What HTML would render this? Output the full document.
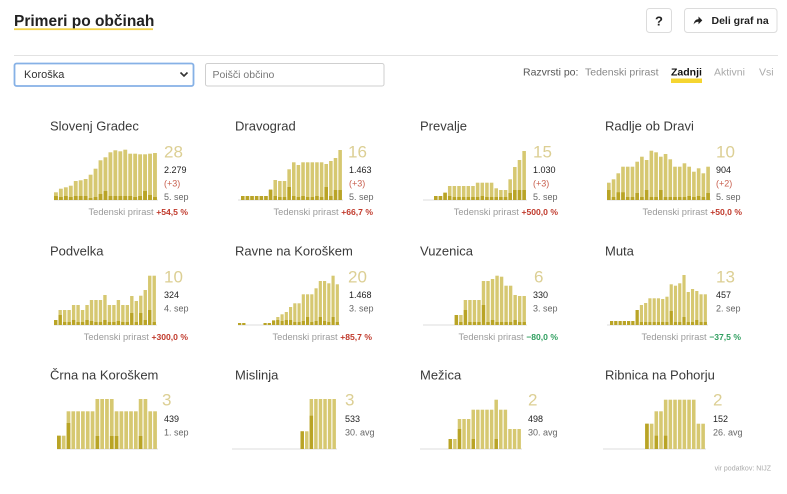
<!DOCTYPE html>
<html><head><meta charset="utf-8">
<style>
html,body{margin:0;padding:0;background:#fff;width:787px;height:494px;overflow:hidden}
svg{display:block}
text{font-family:"Liberation Sans",sans-serif}
</style></head><body>
<svg id="s" width="787" height="494" viewBox="0 0 787 494" xmlns="http://www.w3.org/2000/svg">
<!-- header -->
<text x="14" y="26" font-size="15.5" font-weight="bold" fill="#222">Primeri po občinah</text>
<rect x="14" y="28.3" width="139" height="1.8" fill="#f1d34a"/>
<rect x="646.5" y="8.5" width="25" height="24" rx="3" fill="#fff" stroke="#dcdcdc"/>
<text x="659" y="21" text-anchor="middle" dominant-baseline="central" font-size="13" font-weight="bold" fill="#222">?</text>
<rect x="684.5" y="8.5" width="92.5" height="24" rx="3" fill="#fff" stroke="#dcdcdc"/>
<path d="M693.5 24.5 q0.8 -5.2 5 -5.4 v-2.6 l3.8 3.9 l-3.8 3.9 v-2.5 q-3 0 -5 2.7z" fill="#222"/>
<text x="711.5" y="21" dominant-baseline="central" font-size="10.5" font-weight="bold" fill="#222">Deli graf na</text>
<rect x="14" y="55" width="764" height="1" fill="#e2e2e2"/>
<!-- controls -->
<rect x="14.5" y="63.5" width="179" height="22.5" rx="2" fill="#fff" stroke="#86b1e6" stroke-width="1.8"/>
<text x="24" y="75" dominant-baseline="central" font-size="11" fill="#333">Koroška</text>
<polyline points="180.5,72.5 184,76 187.5,72.5" fill="none" stroke="#333" stroke-width="1.6"/>
<rect x="205.5" y="63.5" width="178.5" height="22.5" rx="2" fill="#fff" stroke="#cfcfcf"/>
<text x="212.5" y="75" dominant-baseline="central" font-size="10.5" fill="#777">Poišči občino</text>
<text x="523" y="72.5" dominant-baseline="central" font-size="10.5" fill="#555">Razvrsti po:</text>
<text x="585" y="72.5" dominant-baseline="central" font-size="10.5" fill="#888">Tedenski prirast</text>
<rect x="671" y="78.5" width="31" height="4.5" fill="#f5d531"/>
<text x="671" y="72.5" dominant-baseline="central" font-size="10.5" font-weight="bold" fill="#111">Zadnji</text>
<text x="714" y="72.5" dominant-baseline="central" font-size="10.5" fill="#aaa">Aktivni</text>
<text x="759" y="72.5" dominant-baseline="central" font-size="10.5" fill="#aaa">Vsi</text>

<g id="bars"></g>

<g font-size="13" fill="#3a3a3a">
<text x="50" y="126" dominant-baseline="central">Slovenj Gradec</text>
<text x="235" y="126" dominant-baseline="central">Dravograd</text>
<text x="420" y="126" dominant-baseline="central">Prevalje</text>
<text x="605" y="126" dominant-baseline="central">Radlje ob Dravi</text>
<text x="50" y="251" dominant-baseline="central">Podvelka</text>
<text x="235" y="251" dominant-baseline="central">Ravne na Koroškem</text>
<text x="420" y="251" dominant-baseline="central">Vuzenica</text>
<text x="605" y="251" dominant-baseline="central">Muta</text>
<text x="50" y="375" dominant-baseline="central">Črna na Koroškem</text>
<text x="235" y="375" dominant-baseline="central">Mislinja</text>
<text x="420" y="375" dominant-baseline="central">Mežica</text>
<text x="605" y="375" dominant-baseline="central">Ribnica na Pohorju</text>
</g>

<g font-size="17" fill="#dccf94">
<text x="164" y="152" dominant-baseline="central">28</text>
<text x="348" y="152" dominant-baseline="central">16</text>
<text x="533" y="152" dominant-baseline="central">15</text>
<text x="716" y="152" dominant-baseline="central">10</text>
<text x="164" y="277" dominant-baseline="central">10</text>
<text x="348" y="277" dominant-baseline="central">20</text>
<text x="534" y="277" dominant-baseline="central">6</text>
<text x="716" y="277" dominant-baseline="central">13</text>
<text x="162" y="400" dominant-baseline="central">3</text>
<text x="345" y="400" dominant-baseline="central">3</text>
<text x="528" y="400" dominant-baseline="central">2</text>
<text x="713" y="400" dominant-baseline="central">2</text>
</g>

<g font-size="9">
<text x="164" y="170" dominant-baseline="central" fill="#222">2.279</text>
<text x="164" y="183.5" dominant-baseline="central" fill="#c9604f">(+3)</text>
<text x="164" y="197" dominant-baseline="central" fill="#666">5. sep</text>
<text x="349" y="170" dominant-baseline="central" fill="#222">1.463</text>
<text x="349" y="183.5" dominant-baseline="central" fill="#c9604f">(+3)</text>
<text x="349" y="197" dominant-baseline="central" fill="#666">5. sep</text>
<text x="533" y="170" dominant-baseline="central" fill="#222">1.030</text>
<text x="533" y="183.5" dominant-baseline="central" fill="#c9604f">(+3)</text>
<text x="533" y="197" dominant-baseline="central" fill="#666">5. sep</text>
<text x="716" y="170" dominant-baseline="central" fill="#222">904</text>
<text x="716" y="183.5" dominant-baseline="central" fill="#c9604f">(+2)</text>
<text x="716" y="197" dominant-baseline="central" fill="#666">5. sep</text>

<text x="164" y="295" dominant-baseline="central" fill="#222">324</text>
<text x="164" y="308.5" dominant-baseline="central" fill="#666">4. sep</text>
<text x="349" y="295" dominant-baseline="central" fill="#222">1.468</text>
<text x="349" y="308.5" dominant-baseline="central" fill="#666">3. sep</text>
<text x="533" y="295" dominant-baseline="central" fill="#222">330</text>
<text x="533" y="308.5" dominant-baseline="central" fill="#666">3. sep</text>
<text x="716" y="295" dominant-baseline="central" fill="#222">457</text>
<text x="716" y="308.5" dominant-baseline="central" fill="#666">2. sep</text>

<text x="164" y="419" dominant-baseline="central" fill="#222">439</text>
<text x="164" y="432.5" dominant-baseline="central" fill="#666">1. sep</text>
<text x="345" y="419" dominant-baseline="central" fill="#222">533</text>
<text x="345" y="432.5" dominant-baseline="central" fill="#666">30. avg</text>
<text x="528" y="419" dominant-baseline="central" fill="#222">498</text>
<text x="528" y="432.5" dominant-baseline="central" fill="#666">30. avg</text>
<text x="713" y="419" dominant-baseline="central" fill="#222">152</text>
<text x="713" y="432.5" dominant-baseline="central" fill="#666">26. avg</text>
</g>

<g font-size="9.3">
<text x="188" y="212" text-anchor="end" dominant-baseline="central"><tspan fill="#9a9a9a">Tedenski prirast </tspan><tspan fill="#c0392b" font-weight="bold" font-size="8.6">+54,5 %</tspan></text>
<text x="373" y="212" text-anchor="end" dominant-baseline="central"><tspan fill="#9a9a9a">Tedenski prirast </tspan><tspan fill="#c0392b" font-weight="bold" font-size="8.6">+66,7 %</tspan></text>
<text x="558" y="212" text-anchor="end" dominant-baseline="central"><tspan fill="#9a9a9a">Tedenski prirast </tspan><tspan fill="#c0392b" font-weight="bold" font-size="8.6">+500,0 %</tspan></text>
<text x="742" y="212" text-anchor="end" dominant-baseline="central"><tspan fill="#9a9a9a">Tedenski prirast </tspan><tspan fill="#c0392b" font-weight="bold" font-size="8.6">+50,0 %</tspan></text>
<text x="188" y="337" text-anchor="end" dominant-baseline="central"><tspan fill="#9a9a9a">Tedenski prirast </tspan><tspan fill="#c0392b" font-weight="bold" font-size="8.6">+300,0 %</tspan></text>
<text x="372" y="337" text-anchor="end" dominant-baseline="central"><tspan fill="#9a9a9a">Tedenski prirast </tspan><tspan fill="#c0392b" font-weight="bold" font-size="8.6">+85,7 %</tspan></text>
<text x="558" y="337" text-anchor="end" dominant-baseline="central"><tspan fill="#9a9a9a">Tedenski prirast </tspan><tspan fill="#2e9e5e" font-weight="bold" font-size="8.6">−80,0 %</tspan></text>
<text x="741" y="337" text-anchor="end" dominant-baseline="central"><tspan fill="#9a9a9a">Tedenski prirast </tspan><tspan fill="#2e9e5e" font-weight="bold" font-size="8.6">−37,5 %</tspan></text>
</g>

<text x="771" y="469" text-anchor="end" dominant-baseline="central" font-size="7" fill="#aaa">vir podatkov: NIJZ</text>
</svg>
<script>
var Z=function(n){var a=[];for(var i=0;i<n;i++)a.push(0);return a;};
var C=[
{b:200,x0:54,x1:158,bx:54,
L:[7.7,11.3,12.7,14.3,19,19.7,21,25.3,31.3,39.7,42.7,47.7,49.7,48.7,50.3,46.3,46.3,45.7,45.7,46.3,47],
D:[4,3,4,3,4,4,4,2,3,6,9,4,4,4,4,4,3,4,9,5,3]},
{b:200,x0:241,x1:343,bx:238,
L:[4,4,4,4,4,4,10.7,20,19,19,30.7,37.7,35,37.7,37.7,37.7,37.7,37.7,36,39,42,50],
D:[4,4,4,4,4,4,10,4,3,3,13,4,3,4,3,3,4,3,13,4,10,10]},
{b:200,x0:434,x1:527,bx:423,
L:[4,4,7.3,14,14,14,14,14,14,17.3,17.3,17.3,17.3,11.7,10,10,20.7,33,40,49],
D:[4,4,7.3,4,3,3,3,3,3,3,4,3,3,3,3,3,7,10,10,10]},
{b:200,x0:607,x1:711,bx:607,
L:[17.3,20.7,26.7,33.3,33.3,33.3,38.3,43.3,40,49.3,47.7,43.3,46,40.7,33.3,33.3,36.7,33.3,28.3,31.7,26.7,33.3],
D:[10,3,7.7,7.7,3,3,7,3,10,3,3,10,3,3,3,3,3,4,3,4,3,7]},
{b:325,x0:54,x1:157,bx:54,
L:[5,15,15,15,20,20,15,20,25,25,25,30,20,20,25,20,20,29,24,29.3,35,49.3,49.3],
D:[5,10,3,3,5,3,3,5,4,3,3,5,3,3,4,3,3,12,3,12,5,15,3]},
{b:325,x0:238,x1:340,bx:238,
L:[2,2,0,0,0,0,2,2,5,8,10.7,13,18,21.7,21.7,30.7,30.7,30.7,36.7,44,44,41.7,49.3,40.7],
D:[2,2,0,0,0,0,2,2,4,5,4,5,5,3,3,4,8,3,4,8,4,3,8,3]},
{b:325,x0:423,x1:527,bx:423,
L:[0,0,0,0,0,0,0,10,10,25,25,25,25,44,44,46,49.3,48.3,39.3,39.3,30,29,29],
D:[0,0,0,0,0,0,0,10,3,15,3,3,3,20,3,5,3,3,3,3,5,3,3]},
{b:325,x0:610,x1:708,bx:607,
L:[4,4,4,4,4,4,15,20,22,26.7,26.7,26.7,26,28.3,40.7,39.3,41.7,50,33,36,34,30.7,30.7],
D:[4,4,4,4,4,4,15,3,3,3,3,3,3,3,14,3,3,8,3,3,5,3,3]},
{b:449,x0:57,x1:158,bx:57,
L:[13.3,13.3,37.7,37.7,37.7,37.7,37.7,37.7,50,50,50,50,37.7,37.7,37.7,37.7,37.7,50,50,37.7,37.7],
D:[13.3,0,26,0,0,0,0,0,13,0,0,13,13,0,0,0,0,13,0,0,0]},
{b:449,x0:232,x1:337,bx:232,
L:Z(15).concat([17.7,17.7,50,50,50,50,50,50]),
D:Z(15).concat([17.7,0,33.3,0,0,0,0,0])},
{b:449,x0:421,x1:522,bx:420,
L:[0,0,0,0,0,0,10,10,30,30,30,39.3,39.3,39.3,39.3,39.3,49.3,39.3,39.3,20,20,20],
D:[0,0,0,0,0,0,10,0,20,0,0,10,0,0,0,0,10,0,0,0,0,0]},
{b:449,x0:603,x1:706,bx:603,
L:Z(9).concat([25.3,25.3,37.7,37.7,49.3,49.3,49.3,49.3,49.3,49.3,49.3,25.3,25.3]),
D:Z(9).concat([25.3,0,13.3,0,13.3,0,0,0,0,0,0,0,0])}
];
var s='';
C.forEach(function(c){
  s+='<rect x="'+c.bx+'" y="'+(c.b-0.5)+'" width="'+(c.x1-c.bx)+'" height="1" fill="#dcdcdc"/>';
  var n=c.L.length,p=(c.x1-c.x0)/n,w=Math.max(p-1.1,1);
  c.L.forEach(function(h,i){
    var x=(c.x0+i*p).toFixed(2);
    if(h>0) s+='<rect x="'+x+'" y="'+(c.b-h).toFixed(2)+'" width="'+w.toFixed(2)+'" height="'+h+'" fill="#d6c871"/>';
    var d=Math.min(c.D[i]||0,h);
    if(d>0) s+='<rect x="'+x+'" y="'+(c.b-d).toFixed(2)+'" width="'+w.toFixed(2)+'" height="'+d+'" fill="#b9a426"/>';
  });
});
document.getElementById('bars').innerHTML=s;
</script>
</body></html>
